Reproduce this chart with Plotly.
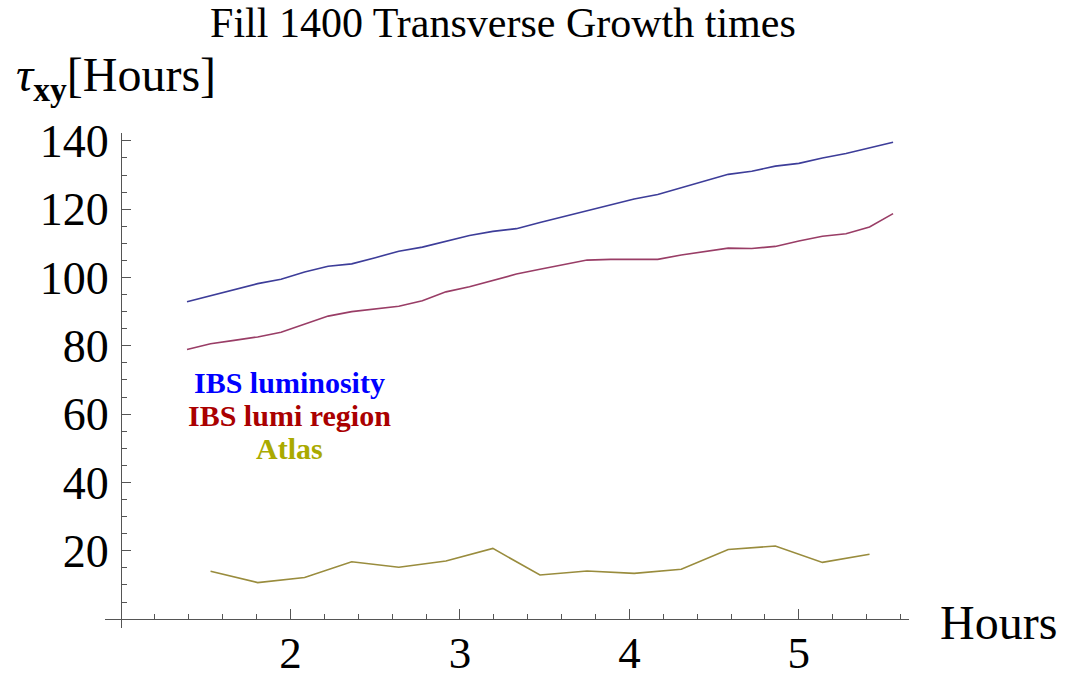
import plotly.graph_objects as go

# time in hours (every 500 s)
times = [1.389, 1.528, 1.667, 1.806, 1.944, 2.083, 2.222, 2.361, 2.500, 2.639,
         2.778, 2.917, 3.056, 3.194, 3.333, 3.472, 3.611, 3.750, 3.889, 4.028,
         4.167, 4.306, 4.444, 4.583, 4.722, 4.861, 5.000, 5.139, 5.278, 5.417, 5.556]

ibs_luminosity = [92.9, 94.6, 96.5, 98.2, 99.5, 101.6, 103.3, 104.0, 105.8, 107.7,
                  108.9, 110.7, 112.3, 113.5, 114.3, 116.1, 117.8, 119.4, 121.3, 123.0,
                  124.3, 126.2, 128.2, 130.2, 131.1, 132.6, 133.4, 135.0, 136.3, 138.0, 139.6]

ibs_lumi_region = [78.9, 80.6, 81.6, 82.6, 84.0, 86.4, 88.7, 90.0, 90.7, 91.6,
                   93.2, 95.8, 97.3, 99.1, 101.0, 102.4, 103.7, 105.1, 105.3, 105.2,
                   105.3, 106.6, 107.6, 108.6, 108.5, 109.1, 110.7, 112.1, 112.8, 114.8, 118.7]

atlas_times = [1.528, 1.806, 2.083, 2.361, 2.639, 2.917, 3.194, 3.472, 3.750, 4.028,
               4.306, 4.583, 4.861, 5.139, 5.417]
atlas = [14.0, 10.7, 12.2, 16.8, 15.2, 17.0, 20.7, 12.9, 14.1, 13.4,
         14.6, 20.4, 21.4, 16.6, 19.0]

x_tickvals = [2, 3, 4, 5]
x_ticktext = ["2", "3", "4", "5"]
y_tickvals = [20, 40, 60, 80, 100, 120, 140]
y_ticktext = ["20", "40", "60", "80", "100", "120", "140"]

legend_labels = ["IBS luminosity", "IBS lumi region", "Atlas"]
legend_colors = ["#0000ff", "#aa0000", "#aaaa00"]
line_colors = ["#3d3d99", "#993d66", "#998c3d"]

FONT = "Liberation Serif"
AX = "#555555"

fig = go.Figure()
fig.add_trace(go.Scatter(x=times, y=ibs_luminosity, mode="lines",
                         line=dict(color=line_colors[0], width=1.6)))
fig.add_trace(go.Scatter(x=times, y=ibs_lumi_region, mode="lines",
                         line=dict(color=line_colors[1], width=1.6)))
fig.add_trace(go.Scatter(x=atlas_times, y=atlas, mode="lines",
                         line=dict(color=line_colors[2], width=1.6)))

xr = [0.905, 5.65]
yr = [-2.6, 142.3]

fig.update_layout(
    width=1070, height=679,
    margin=dict(l=105, r=161, t=133, b=51),
    paper_bgcolor="white", plot_bgcolor="white",
    showlegend=False,
    font=dict(family=FONT, color="black"),
    title=dict(text="Fill 1400 Transverse Growth times", x=0.47, xanchor="center",
               y=1 - 22 / 679, yanchor="middle", font=dict(size=42, family=FONT)),
    xaxis=dict(range=xr, anchor="free", position=(0 - yr[0]) / (yr[1] - yr[0]),
               showline=True, linecolor=AX, linewidth=1.3, showgrid=False, zeroline=False,
               tickmode="array", tickvals=x_tickvals, ticktext=x_ticktext,
               ticks="inside", ticklen=10, tickcolor=AX, tickwidth=1.2,
               tickfont=dict(size=45, family=FONT), ticklabelstandoff=-6,
               minor=dict(tickmode="linear", tick0=1, dtick=0.2, ticks="inside",
                          ticklen=5, tickcolor=AX, tickwidth=1, showgrid=False),
               automargin=False),
    yaxis=dict(range=yr, anchor="free", position=(1 - xr[0]) / (xr[1] - xr[0]),
               showline=True, linecolor=AX, linewidth=1.3, showgrid=False, zeroline=False,
               tickmode="array", tickvals=y_tickvals, ticktext=y_ticktext,
               ticks="inside", ticklen=9, tickcolor=AX, tickwidth=1.2,
               tickfont=dict(size=46, family=FONT), ticklabelstandoff=3,
               minor=dict(tickmode="linear", tick0=0, dtick=5, ticks="inside",
                          ticklen=5, tickcolor=AX, tickwidth=1, showgrid=False),
               automargin=False),
)

# axis labels
fig.add_annotation(text="<i>τ</i><sub><b>xy</b></sub>[Hours]", xref="paper", yref="paper",
                   x=(14 - 105) / 804, y=(628 - 78) / 495, xanchor="left", yanchor="middle",
                   showarrow=False, font=dict(size=48, family=FONT))
fig.add_annotation(text="Hours", xref="paper", yref="paper",
                   x=(938 - 105) / 804, y=(628 - 622) / 495, xanchor="left", yanchor="middle",
                   showarrow=False, font=dict(size=48, family=FONT))

# legend texts
legend_y = [69.4, 59.7, 49.8]
for lab, col, ly in zip(legend_labels, legend_colors, legend_y):
    fig.add_annotation(text="<b>" + lab + "</b>", x=1.995, y=ly, xref="x", yref="y",
                       showarrow=False, xanchor="center", yanchor="middle",
                       font=dict(size=30, family=FONT, color=col))

fig.write_html("out.html", config={"displayModeBar": False},
               post_script="document.body.style.margin='0';")
